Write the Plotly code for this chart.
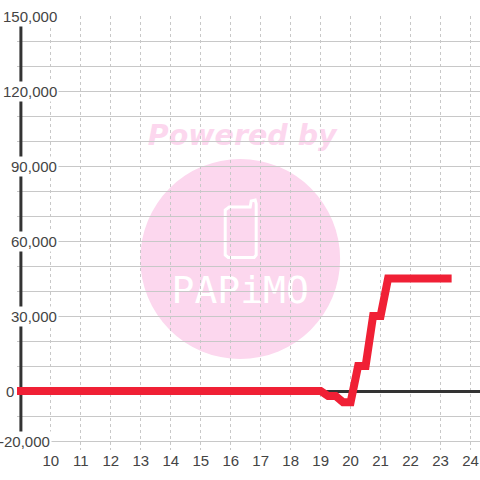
import plotly.graph_objects as go

hours = [8.87, 10, 12, 14, 16, 18, 19, 19.25, 19.5, 19.75, 20, 20.25, 20.5, 20.75, 21, 21.25, 22, 23, 23.37]
values = [0, 0, 0, 0, 0, 0, 0, -2000, -2000, -4500, -4500, 10000, 10000, 30000, 30000, 45000, 45000, 45000, 45000]
x_ticks = list(range(10, 25))
y_grid_step = 10000
y_labels = [150000, 120000, 90000, 60000, 30000, 0, -20000]
y_label_text = ["150,000", "120,000", "90,000", "60,000", "30,000", "0", "-20,000"]
watermark_title = "Powered by"
watermark_brand = "PAPiMO"

L, R, T, B = 16.6, 0, 16, 30
PW, PH = 480 - L - R, 480 - T - B
def px(v): return (v - L) / PW
def py(v): return (480 - B - v) / PH

TEXT = "#444444"
PINK = "#fcd7ee"

fig = go.Figure()
fig.add_trace(go.Scatter(x=hours, y=values, mode="lines",
                         line=dict(color="#f02035", width=8, shape="linear"),
                         hoverinfo="skip", showlegend=False))

shapes = [
    dict(type="circle", xref="paper", yref="paper", layer="below",
         x0=px(140), x1=px(340), y0=py(359), y1=py(159),
         fillcolor=PINK, line=dict(width=0)),
    dict(type="path", xref="paper", yref="paper", layer="below",
         path=(f"M {px(229)} {py(207)} L {px(250)} {py(207)} L {px(251)} {py(201)} "
               f"L {px(255)} {py(200)} L {px(256)} {py(204)} L {px(256)} {py(255)} "
               f"L {px(254)} {py(257.5)} L {px(228)} {py(257.5)} L {px(225)} {py(255)} "
               f"L {px(225)} {py(210)} Z"),
         line=dict(color="white", width=3)),
    dict(type="rect", xref="paper", yref="paper", layer="below",
         x0=px(122), x1=px(362), y0=py(148), y1=py(118), line=dict(width=0),
         label=dict(text=watermark_title, textposition="middle center",
                    font=dict(family="DejaVu Sans", size=28.5, color=PINK,
                              weight="bold", style="italic"))),
    dict(type="rect", xref="paper", yref="paper", layer="below",
         x0=px(140), x1=px(340), y0=py(307), y1=py(267), line=dict(width=0),
         label=dict(text=watermark_brand, textposition="middle center",
                    font=dict(family="DejaVu Sans Mono", size=38, color="white"))),
    # white strip hiding the grid left of the y axis, then the axis line itself
    dict(type="rect", xref="paper", yref="paper", layer="between",
         x0=0, x1=px(20), y0=0, y1=1, fillcolor="white", line=dict(width=0)),
    dict(type="line", xref="x", yref="y", layer="between",
         x0=9, x1=9, y0=-20000, y1=150000, line=dict(color="#333333", width=3)),
]

label_right = {"150,000": 59, "120,000": 59, "90,000": 59, "60,000": 59,
               "30,000": 59, "0": 16, "-20,000": 52}
annotations = [
    dict(x=px(label_right[t]), y=v, xref="paper", yref="y", text=t, showarrow=False,
         xanchor="right", yanchor="middle", bgcolor="white", borderpad=1,
         font=dict(family="Liberation Sans", size=15, color=TEXT))
    for v, t in zip(y_labels, y_label_text)
]

fig.update_layout(
    width=480, height=480, autosize=False,
    margin=dict(l=L, r=R, t=T, b=B, pad=0),
    paper_bgcolor="white", plot_bgcolor="white",
    showlegend=False, shapes=shapes, annotations=annotations,
    font=dict(family="Liberation Sans", size=15, color=TEXT),
    xaxis=dict(range=[8.87, 8.87 + PW / 30], tickmode="array", tickvals=x_ticks,
               ticktext=[str(t) for t in x_ticks], showgrid=True,
               gridcolor="#c8c8c8", griddash="3px,3px", gridwidth=1,
               zeroline=False, showline=False, ticks="",
               tickfont=dict(family="Liberation Sans", size=15, color=TEXT)),
    yaxis=dict(range=[-23600, 150000], tick0=0, dtick=y_grid_step, showgrid=True,
               gridcolor="#c8c8c8", gridwidth=1, zeroline=True,
               zerolinecolor="#333333", zerolinewidth=3, showline=False,
               showticklabels=False, ticks=""),
)
fig.write_html("out.html", config={"displayModeBar": False},
               post_script="document.body.style.margin='0';document.documentElement.style.overflow='hidden';")
